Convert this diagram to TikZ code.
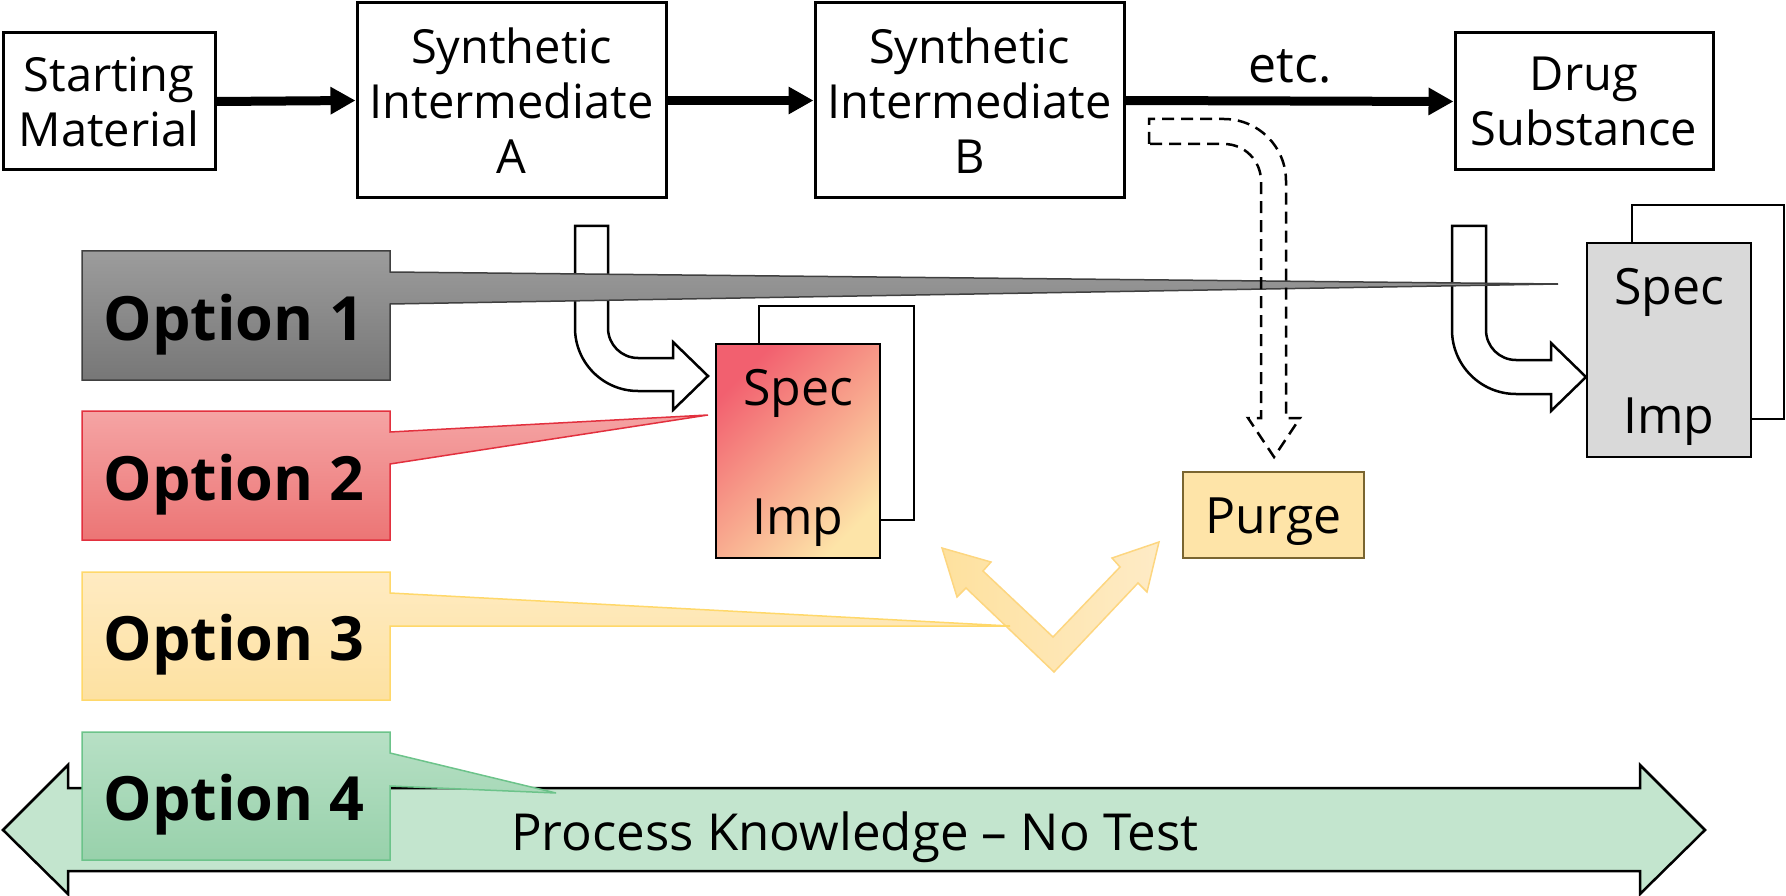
\documentclass[tikz,border=0pt]{standalone}
\usepackage{fontspec}
\setmainfont{Open Sans}
\usetikzlibrary{arrows.meta}
\definecolor{opAtop}{HTML}{9C9C9C}
\definecolor{opAbot}{HTML}{777777}
\definecolor{opAedge}{HTML}{404040}
\definecolor{opBtop}{HTML}{F5A4A4}
\definecolor{opBbot}{HTML}{EC7575}
\definecolor{opBedge}{HTML}{E2303E}
\definecolor{opCtop}{HTML}{FFEBC2}
\definecolor{opCbot}{HTML}{FDE1A1}
\definecolor{opCedge}{HTML}{FFD86A}
\definecolor{opDtop}{HTML}{B7E0C5}
\definecolor{opDbot}{HTML}{98D1AB}
\definecolor{opDedge}{HTML}{6CC38A}
\definecolor{specred}{HTML}{F2606F}
\definecolor{specyel}{HTML}{FDE4A8}
\definecolor{specgray}{HTML}{D9D9D9}
\definecolor{purgefill}{HTML}{FEE4A8}
\definecolor{purgeedge}{HTML}{7A6530}
\definecolor{pkfill}{HTML}{C3E5CE}
\definecolor{vleft}{HTML}{FEE19E}
\definecolor{vright}{HTML}{FEEBC6}
\definecolor{vedge}{HTML}{FDD680}
\begin{document}
\begin{tikzpicture}[x=1pt,y=-1pt,
  procbox/.style={draw=black, line width=3pt, fill=white, inner sep=0pt, align=center,
    font=\fontsize{47}{55}\selectfont},
  flow/.style={line width=9pt, -{Triangle[length=25pt,width=26pt]}},
  optlabel/.style={font=\bfseries\fontsize{61}{66}\selectfont, inner sep=0pt, anchor=base},
  plaintext/.style={font=\fontsize{47}{55}\selectfont, inner sep=0pt, anchor=base},
  hollow/.style={draw=black, line width=2.5pt, fill=white, line join=miter},
  specbox/.style={draw=black, line width=2.5pt, inner sep=0pt, minimum width=164pt, minimum height=214pt},
  backrect/.style={draw=black, line width=2pt},
  callout/.style={line width=1.5pt, line join=miter}
]
\useasboundingbox (0,0) rectangle (1786,896);

% Process knowledge double arrow
\path[draw=black, fill=pkfill, line width=2.5pt, line join=miter]
  (3,830) -- (68,765) -- (68,788) -- (1640,788) -- (1640,765) -- (1705,830)
  -- (1640,894) -- (1640,871) -- (68,871) -- (68,894) -- cycle;
\node[plaintext, font=\fontsize{51}{58}\selectfont] (pk) at (855,850) {Process Knowledge – No Test};

% top process chain
\node[procbox, minimum width=212pt, minimum height=137pt] (sm) at (109,101.5) {Starting\\Material};
\node[procbox, minimum width=309pt, minimum height=195pt] (ia) at (511.5,100.5) {Synthetic\\Intermediate\\A};
\node[procbox, minimum width=309pt, minimum height=195pt] (ib) at (969.5,100.5) {Synthetic\\Intermediate\\B};
\node[procbox, minimum width=258pt, minimum height=137pt] (ds) at (1584,101.5) {Drug\\Substance};
\draw[flow] (sm.east) -- (ia.west);
\draw[flow] (ia.east) -- (ib.west);
\draw[flow] (ib.east) -- (ds.west);
\node[plaintext, font=\fontsize{50}{55}\selectfont] (etc) at (1290,83) {etc.};

% hollow U-turn arrows
\path[hollow] (608,226) -- (575,226) -- (575,328) .. controls (575,362.8) and (603.2,391) .. (638,391)
  -- (673,391) -- (673,410) -- (708,376) -- (673,342) -- (673,358) -- (638,358)
  .. controls (621.4,358) and (608,344.6) .. (608,328) -- cycle;
\path[hollow] (1486,226) -- (1452,226) -- (1452,330) .. controls (1452,365.3) and (1480.7,394) .. (1516,394)
  -- (1551,394) -- (1551,411) -- (1586,377) -- (1551,343) -- (1551,360) -- (1516,360)
  .. controls (1499.4,360) and (1486,346.6) .. (1486,330) -- cycle;

% spec / imp boxes
\draw[backrect] (759,306) rectangle (914,520);
\node[specbox, top color=specred, bottom color=specyel, shading angle=45] (speca) at (798,451) {};
\node[plaintext, font=\fontsize{50}{55}\selectfont] (specatxt) at (798,405) {Spec};
\node[plaintext, font=\fontsize{50}{55}\selectfont] (impatxt) at (798,534) {Imp};
\draw[backrect] (1632,205) rectangle (1784,419);
\node[specbox, fill=specgray] (specb) at (1669,350) {};
\node[plaintext, font=\fontsize{50}{55}\selectfont] (specbtxt) at (1669,304) {Spec};
\node[plaintext, font=\fontsize{50}{55}\selectfont] (impbtxt) at (1669,433) {Imp};

% V double arrow
\path[draw=vedge, left color=vleft, right color=vright, line width=1.5pt, line join=miter]
  (1054,672) -- (966,588) -- (957,597) -- (942,548) -- (991,562) -- (983,571)
  -- (1053,637) -- (1120,567) -- (1112,558) -- (1159,542) -- (1147,592) -- (1138,583) -- cycle;

% purge
\node[draw=purgeedge, fill=purgefill, line width=2.5pt, inner sep=0pt,
  minimum width=181pt, minimum height=86pt] (purge) at (1273.5,515) {};
\node[plaintext, font=\fontsize{50}{55}\selectfont] (purgetxt) at (1273.5,533) {Purge};

% option callouts
\path[callout, draw=opAedge, top color=opAtop, bottom color=opAbot]
  (82,251) -- (390,251) -- (390,272) -- (1558,284) -- (390,304) -- (390,380) -- (82,380) -- cycle;
\node[optlabel] (opt1) at (234,340) {Option 1};
\path[callout, draw=opBedge, top color=opBtop, bottom color=opBbot]
  (82,411) -- (390,411) -- (390,432) -- (708,415) -- (390,464) -- (390,540) -- (82,540) -- cycle;
\node[optlabel] (opt2) at (234,500) {Option 2};
\path[callout, draw=opCedge, top color=opCtop, bottom color=opCbot]
  (82,572) -- (390,572) -- (390,593) -- (1010,626) -- (390,626) -- (390,700) -- (82,700) -- cycle;
\node[optlabel] (opt3) at (234,660) {Option 3};
\path[callout, draw=opDedge, top color=opDtop, bottom color=opDbot]
  (82,732) -- (390,732) -- (390,753) -- (556,793) -- (390,786) -- (390,860) -- (82,860) -- cycle;
\node[optlabel] (opt4) at (234,820) {Option 4};

% dashed U-turn arrow towards purge
\path[draw=black, line width=2.5pt, dash pattern=on 12pt off 7pt, line join=miter]
  (1149,144) -- (1149,119) -- (1224,119) .. controls (1258.2,119) and (1286,146.8) .. (1286,181)
  -- (1286,418) -- (1300,418) -- (1274,457) -- (1248,418) -- (1261,418) -- (1261,181)
  .. controls (1261,160.6) and (1244.4,144) .. (1224,144) -- cycle;
\end{tikzpicture}
\end{document}
